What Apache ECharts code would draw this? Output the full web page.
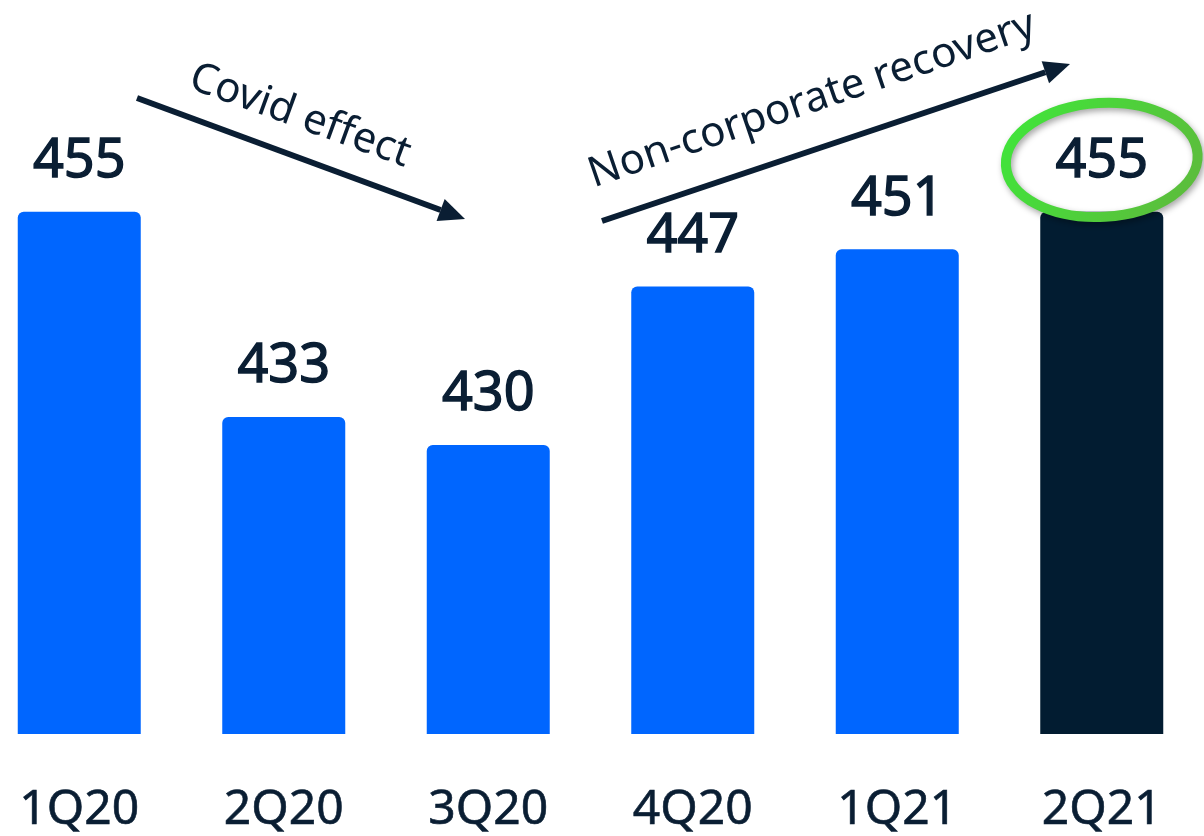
<!DOCTYPE html>
<html>
<head>
<meta charset="utf-8">
<script src="https://cdn.jsdelivr.net/npm/echarts@6/dist/echarts.min.js"></script>
<style>html,body{margin:0;padding:0;background:#fff;overflow:hidden;width:1204px;height:836px;}#c{position:absolute;left:-23px;top:0;width:1227px;height:836px;}</style>
</head>
<body>
<div id="c"></div>
<script>
var categories = ['1Q20', '2Q20', '3Q20', '4Q20', '1Q21', '2Q21'];
var values = [455, 433, 430, 447, 451, 455];
var highlightIndex = 5;
var annotationCovid = 'Covid effect';
var annotationRecovery = 'Non-corporate recovery';

var BLUE = '#0066ff', NAVY = '#021c31', TEXT = '#0a1e33';
var OFF = 23; // canvas is shifted left by this many px
var chart = echarts.init(document.getElementById('c'));

function arrow(x1, y1, x2, y2, w, head) {
  x1 += OFF; x2 += OFF;
  var ang = Math.atan2(y2 - y1, x2 - x1);
  var bx = x2 - head * Math.cos(ang), by = y2 - head * Math.sin(ang);
  var px = -Math.sin(ang) * head * 0.45, py = Math.cos(ang) * head * 0.45;
  return [
    {type: 'line', shape: {x1: x1, y1: y1, x2: bx, y2: by}, style: {stroke: TEXT, lineWidth: w}, z: 10},
    {type: 'polygon', shape: {points: [[x2, y2], [bx + px, by + py], [bx - px, by - py]]}, style: {fill: TEXT}, z: 10}
  ];
}

chart.setOption({
  animation: false,
  grid: {left: 0, right: 0, top: 72, bottom: 102},
  xAxis: {
    type: 'category', data: categories,
    axisLine: {show: false}, axisTick: {show: false},
    axisLabel: {color: TEXT, fontSize: 48, fontFamily: 'Noto Sans', margin: 52,
      textBorderColor: TEXT, textBorderWidth: 0.6}
  },
  yAxis: {type: 'value', min: 399, max: 470, show: false, splitLine: {show: false}},
  series: [{
    type: 'bar', barWidth: 123,
    data: values.map(function (v, i) {
      return {value: v, itemStyle: {color: i === highlightIndex ? NAVY : BLUE, borderRadius: [6, 6, 0, 0]}};
    }),
    label: {show: true, position: 'top', distance: 23, color: TEXT, fontSize: 54, fontFamily: 'Noto Sans',
      textBorderColor: TEXT, textBorderWidth: 1.4}
  }]
});

var p = chart.convertToPixel({xAxisIndex: 0, yAxisIndex: 0}, [highlightIndex, values[highlightIndex]]);
var graphics = [];
graphics = graphics.concat(arrow(137, 98, 465, 219, 6, 26));
graphics = graphics.concat(arrow(602, 221, 1070, 64, 6, 26));
graphics.push({
  type: 'text', x: 300 + OFF, y: 116, rotation: -0.35,
  style: {text: annotationCovid, fill: TEXT, font: '42px "Noto Sans"', align: 'center', verticalAlign: 'middle'}, z: 10
});
graphics.push({
  type: 'text', x: 812 + OFF, y: 100, rotation: 0.33,
  style: {text: annotationRecovery, fill: TEXT, font: '42px "Noto Sans"', align: 'center', verticalAlign: 'middle'}, z: 10
});
graphics.push({
  type: 'ellipse', rotation: 0.06, x: p[0], y: p[1] - 52, originX: 0, originY: 0,
  shape: {cx: 0, cy: 0, rx: 96, ry: 57},
  style: {
    fill: 'none', lineWidth: 10,
    stroke: new echarts.graphic.LinearGradient(0, 0, 1, 1, [{offset: 0, color: '#3ee83a'}, {offset: 1, color: '#5fb83c'}]),
    shadowBlur: 6, shadowColor: 'rgba(0,0,0,0.35)', shadowOffsetX: 2, shadowOffsetY: 3
  }, z: 20
});
chart.setOption({graphic: graphics});
</script>
</body>
</html>
